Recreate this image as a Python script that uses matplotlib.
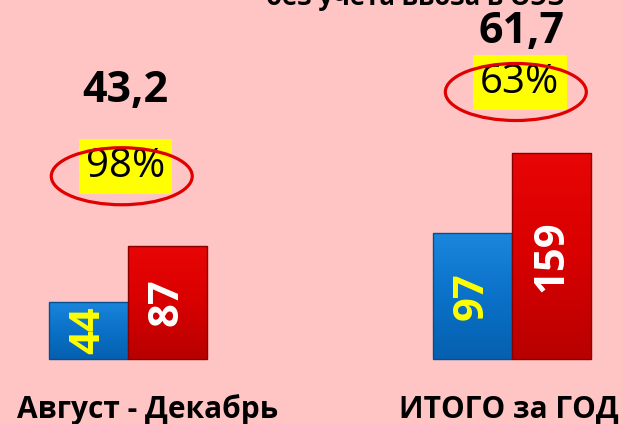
import matplotlib
matplotlib.use("Agg")
import matplotlib.pyplot as plt
import numpy as np
from matplotlib.patches import Ellipse
from matplotlib.colors import LinearSegmentedColormap

plt.rcParams['font.family'] = ['Open Sans', 'DejaVu Sans']

# data
categories = ['Август - Декабрь', 'ИТОГО за ГОД']
blue_vals = [44, 97]
red_vals = [87, 159]
totals = ['43,2', '61,7']
shares = ['98%', '63%']
subtitle = 'без учета ввоза в ОЭЗ'

BG = '#FFC4C4'
BLUE = '#0A72C8'
RED = '#D90000'

fig = plt.figure(figsize=(6.23, 4.24), dpi=100, facecolor=BG)
ax = fig.add_axes([0, 0, 1, 1], facecolor=BG)
ax.axis('off')

w = 0.206
xs = [0, 1]
bars_b = ax.bar([x - w / 2 for x in xs], blue_vals, width=w, color=BLUE, linewidth=0)
bars_r = ax.bar([x + w / 2 for x in xs], red_vals, width=w, color=RED, linewidth=0)

# light shading inside each bar
cm_b = LinearSegmentedColormap.from_list('b', ['#0660B0', '#0A72C8', '#1A86DC'])
cm_r = LinearSegmentedColormap.from_list('r', ['#B80000', '#D80000', '#E80505'])
grad = np.linspace(0, 1, 64).reshape(-1, 1)
for bars, cm in [(bars_b, cm_b), (bars_r, cm_r)]:
    for p in bars:
        x0, y0 = p.get_x(), p.get_y()
        im = ax.imshow(grad, cmap=cm, aspect='auto', origin='lower',
                       extent=[x0, x0 + p.get_width(), y0, y0 + p.get_height()],
                       zorder=p.get_zorder() + 0.1)
        im.set_clip_path(p)

# outlines on top
ax.bar([x - w / 2 for x in xs], blue_vals, width=w, fill=False,
       edgecolor='#05508F', linewidth=1.0, zorder=3)
ax.bar([x + w / 2 for x in xs], red_vals, width=w, fill=False,
       edgecolor='#8A0000', linewidth=1.0, zorder=3)
ax.set_xlim(-0.333, 1.289)
ax.set_ylim(-50.2, 277.0)

# in-bar labels
for x, v in zip(xs, blue_vals):
    ax.text(x - w / 2, v / 2, str(v), rotation=90, ha='center', va='center',
            fontsize=30, fontweight='bold', color='#FFFF00', zorder=5)
for x, v in zip(xs, red_vals):
    ax.text(x + w / 2, v / 2, str(v), rotation=90, ha='center', va='center',
            fontsize=30, fontweight='bold', color='white', zorder=5)

# category labels
cat_x = [0.052, 0.993]
for x, c in zip(cat_x, categories):
    ax.text(x, -39, c, ha='center', va='center',
            fontsize=21.5, fontweight='bold', color='black')

# totals and percent boxes (label placement)
total_xy = [(-0.008, 207), (1.026, 253)]
share_xy = [(-0.0065, 148.5), (1.02, 213)]
ell_xy = [(-0.016, 141), (1.01, 206)]
for i in range(len(xs)):
    ax.text(*total_xy[i], totals[i], ha='center', va='center',
            fontsize=31, fontweight='bold', color='black')
    ax.text(*share_xy[i], shares[i], ha='center', va='center',
            fontsize=29, color='black',
            bbox=dict(boxstyle='square,pad=0.18', facecolor='#FFFF00', edgecolor='none'))
    ax.add_patch(Ellipse(ell_xy[i], 0.367, 44, facecolor='none',
                         edgecolor='#E00000', linewidth=2.3, zorder=6))

fig.text(0.667, 419 / 424, subtitle, ha='center', va='baseline',
         fontsize=18.5, fontweight='bold', color='black')

fig.savefig('out.png', dpi=100, facecolor=BG)
